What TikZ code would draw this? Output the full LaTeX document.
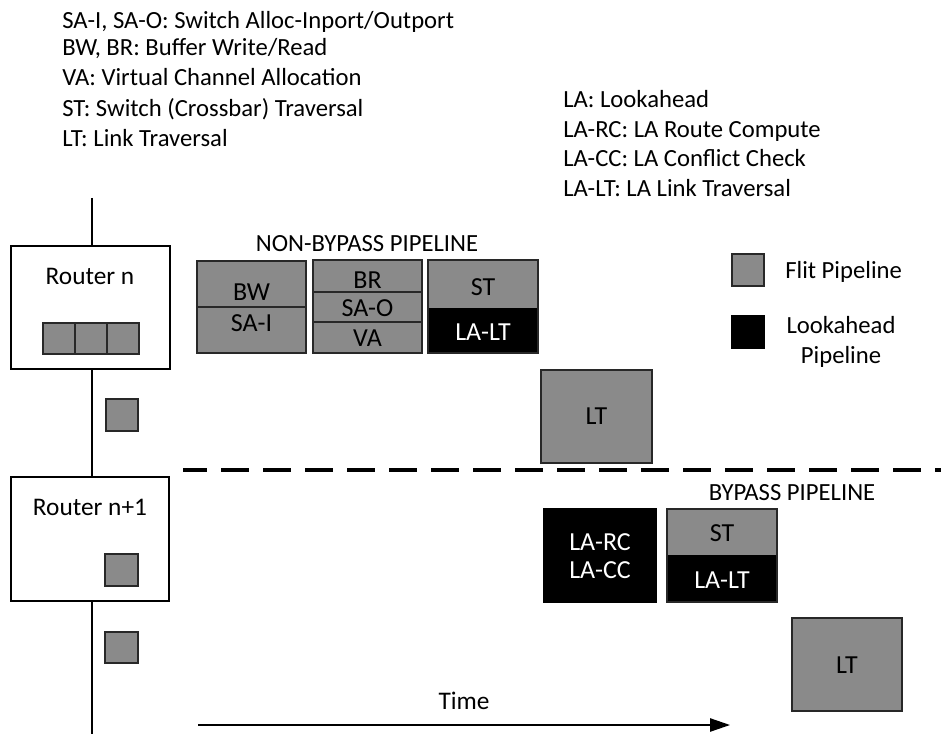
\documentclass[tikz,border=0pt]{standalone}
\usepackage{fontspec}
\setmainfont{Carlito}
\usetikzlibrary{arrows.meta}
\definecolor{flit}{RGB}{138,138,138}
\definecolor{edge}{RGB}{40,40,40}
\begin{document}
\begin{tikzpicture}[x=0.75pt,y=-0.75pt,
  legtext/.style={font=\fontsize{18.5}{21}\selectfont, inner sep=0pt, anchor=base west},
  boxlbl/.style={font=\fontsize{19.5}{22}\selectfont, inner sep=0pt, anchor=base},
  titlelbl/.style={font=\fontsize{18.5}{21}\selectfont, inner sep=0pt, anchor=base},
  routerlbl/.style={font=\fontsize{19}{22}\selectfont, inner sep=0pt, anchor=base},
  flitbox/.style={fill=flit, draw=edge, line width=0.9pt},
  labox/.style={fill=black, draw=black, line width=0.9pt},
  routerbox/.style={fill=white, draw=black, line width=0.9pt},
  divider/.style={draw=edge, line width=0.9pt},
  wire/.style={draw=black, line width=0.9pt}]
\useasboundingbox (0,0) rectangle (941,734);

% top-left legend
\node[legtext] (l1) at (62,29) {SA-I, SA-O: Switch Alloc-Inport/Outport};
\node[legtext] (l2) at (62,56) {BW, BR: Buffer Write/Read};
\node[legtext] (l3) at (62,86) {VA: Virtual Channel Allocation};
\node[legtext] (l4) at (62,117) {ST: Switch (Crossbar) Traversal};
\node[legtext] (l5) at (62,147) {LT: Link Traversal};

% top-right legend
\node[legtext] (r1) at (563,108) {LA: Lookahead};
\node[legtext] (r2) at (563,138) {LA-RC: LA Route Compute};
\node[legtext] (r3) at (563,167) {LA-CC: LA Conflict Check};
\node[legtext] (r4) at (563,197) {LA-LT: LA Link Traversal};

% vertical wire
\coordinate (wtop) at (92,198);
\coordinate (wbot) at (92,734);
\draw[wire] (wtop) -- (wbot);

% Router n
\draw[routerbox] (11,246) rectangle (170,369);
\node[routerlbl] (rn) at (90,284) {Router n};
\draw[flitbox] (43,323) rectangle (75,354);
\draw[flitbox] (75,323) rectangle (107,354);
\draw[flitbox] (107,323) rectangle (139,354);
\draw[flitbox] (106,399) rectangle (138,431);

% Router n+1
\draw[routerbox] (11,477) rectangle (169,601);
\node[routerlbl] (rn1) at (90,515) {Router n+1};
\draw[flitbox] (105,554) rectangle (138,586);
\draw[flitbox] (105,632) rectangle (138,663);

% non-bypass pipeline
\node[titlelbl] (nbt) at (367,252) {NON-BYPASS PIPELINE};
\draw[flitbox] (197,261) rectangle (306,353);
\draw[divider] (197,307) -- (306,307);
\node[boxlbl] (bw) at (251.5,300) {BW};
\node[boxlbl] (sai) at (251.5,331) {SA-I};

\draw[flitbox] (313,260) rectangle (422,353);
\draw[divider] (313,292) -- (422,292);
\draw[divider] (313,322) -- (422,322);
\node[boxlbl] (br) at (367.5,288) {BR};
\node[boxlbl] (sao) at (367.5,316) {SA-O};
\node[boxlbl] (va) at (367.5,346) {VA};

\fill[flit] (428,260) rectangle (538,308);
\fill[black] (428,308) rectangle (538,353);
\draw[draw=edge, line width=0.9pt] (428,260) rectangle (538,353);
\node[boxlbl] (st1) at (483,295) {ST};
\node[boxlbl, text=white] (lalt1) at (483,340) {LA-LT};

\draw[flitbox] (541,370) rectangle (652,463);
\node[boxlbl] (lt1) at (596.5,424) {LT};

% dashed separator
\coordinate (dl) at (183,470);
\coordinate (dr) at (941,470);
\draw[line width=3pt, dash pattern=on 21pt off 10.5pt, dash phase=3pt] (dl) -- (dr);

% bypass pipeline
\node[titlelbl] (bpt) at (792,500) {BYPASS PIPELINE};
\draw[labox] (544,509) rectangle (656,602);
\node[boxlbl, text=white] (larc) at (600,550) {LA-RC};
\node[boxlbl, text=white] (lacc) at (600,578) {LA-CC};

\fill[flit] (667,509) rectangle (777,555);
\fill[black] (667,555) rectangle (777,602);
\draw[draw=edge, line width=0.9pt] (667,509) rectangle (777,602);
\node[boxlbl] (st2) at (722,541) {ST};
\node[boxlbl, text=white] (lalt2) at (722,588) {LA-LT};

\draw[flitbox] (792,618) rectangle (902,711);
\node[boxlbl] (lt2) at (847,673) {LT};

% key
\draw[flitbox] (732,254) rectangle (764,286);
\node[legtext] (kf) at (785,278) {Flit Pipeline};
\draw[labox] (732,316) rectangle (764,348);
\node[routerlbl, font=\fontsize{18.5}{21}\selectfont] (kl1) at (841,333) {Lookahead};
\node[routerlbl, font=\fontsize{18.5}{21}\selectfont] (kl2) at (841,363) {Pipeline};

% time arrow
\node[routerlbl] (time) at (464,709) {Time};
\coordinate (ta) at (198,725);
\coordinate (tb) at (730,725);
\draw[line width=1.1pt, -{Triangle[length=15pt, width=10pt]}] (ta) -- (tb);
\end{tikzpicture}
\end{document}
